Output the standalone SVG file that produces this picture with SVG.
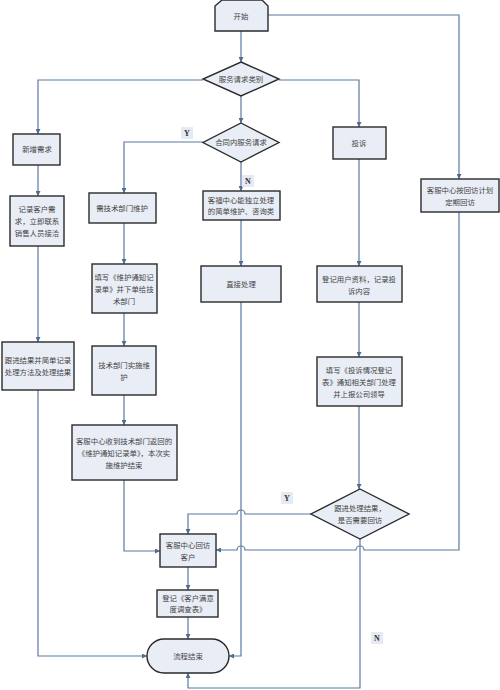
<svg xmlns="http://www.w3.org/2000/svg" width="500" height="690" viewBox="0 0 500 690">
<defs>
<marker id="arr" viewBox="0 0 10 10" refX="10" refY="5" markerWidth="5" markerHeight="5" orient="auto" markerUnits="userSpaceOnUse">
<path d="M0,0 L10,5 L0,10 z" fill="#4e6c93"/>
</marker>
<style>
.n{fill:#e9edf6;stroke:#2a2a2a;stroke-width:1.4}
.c{fill:none;stroke:#5a7aa0;stroke-width:1.2}
.t{font-family:"Liberation Serif","Noto Sans CJK SC",serif;font-size:7.4px;fill:#444;text-anchor:middle}
.lb{fill:#e6eaf3}
.lt{font-family:"Liberation Serif","Noto Sans CJK SC",serif;font-size:8px;font-weight:bold;fill:#333;text-anchor:middle}
</style>
</defs>
<rect width="500" height="690" fill="#fff"/>
<g id="connectors">
<path class="c" d="M241 31 V62" marker-end="url(#arr)"/>
<path class="c" d="M268 15 H459 V179" marker-end="url(#arr)"/>
<path class="c" d="M203 80 H38 V134" marker-end="url(#arr)"/>
<path class="c" d="M279 80 H359 V127" marker-end="url(#arr)"/>
<path class="c" d="M241 96 V123" marker-end="url(#arr)"/>
<path class="c" d="M203 142 H124 V193" marker-end="url(#arr)"/>
<path class="c" d="M241 162 V191" marker-end="url(#arr)"/>
<path class="c" d="M241 220 V266" marker-end="url(#arr)"/>
<path class="c" d="M38 165 V196" marker-end="url(#arr)"/>
<path class="c" d="M38 246 V342" marker-end="url(#arr)"/>
<path class="c" d="M38 390 V656 H147" marker-end="url(#arr)"/>
<path class="c" d="M124 223 V264" marker-end="url(#arr)"/>
<path class="c" d="M124 313 V346" marker-end="url(#arr)"/>
<path class="c" d="M124 395 V425" marker-end="url(#arr)"/>
<path class="c" d="M124 480 V551 H160" marker-end="url(#arr)"/>
<path class="c" d="M241 302 V656 H229" marker-end="url(#arr)"/>
<path class="c" d="M359 159 V266" marker-end="url(#arr)"/>
<path class="c" d="M359 302 V357" marker-end="url(#arr)"/>
<path class="c" d="M359 406 V489" marker-end="url(#arr)"/>
<path class="c" d="M311 514 H245 A4 4 0 0 0 237 514 H188 V534" marker-end="url(#arr)"/>
<path class="c" d="M459 212 V550 H364 A4 4 0 0 0 356 550 H245 A4 4 0 0 0 237 550 H216" marker-end="url(#arr)"/>
<path class="c" d="M360 539 V688 H188 V673" marker-end="url(#arr)"/>
<path class="c" d="M188 567 V590" marker-end="url(#arr)"/>
<path class="c" d="M188 617 V639" marker-end="url(#arr)"/>
</g>
<g id="lbl-y1"><rect class="lb" x="181" y="127" width="12" height="12"/><text class="lt" x="187" y="136">Y</text></g>
<g id="lbl-n1"><rect class="lb" x="242" y="175" width="12" height="12"/><text class="lt" x="248" y="184">N</text></g>
<g id="lbl-y2"><rect class="lb" x="281" y="492" width="12" height="12"/><text class="lt" x="287" y="501">Y</text></g>
<g id="lbl-n2"><rect class="lb" x="371" y="632" width="12" height="12"/><text class="lt" x="377" y="641">N</text></g>
<g id="start"><path class="n" d="M222 0 H262 L268 6 V31 H215 V6 Z"/><text class="t" x="241" y="19">开始</text></g>
<g id="type"><path class="n" d="M241 62 L279 79 L241 96 L203 79 Z"/><text class="t" x="241" y="82">服务请求类别</text></g>
<g id="new"><rect class="n" x="13" y="134" width="47" height="31"/><text class="t" x="37" y="152">新增需求</text></g>
<g id="record"><rect class="n" x="10" y="196" width="54" height="50"/><text class="t" x="37" y="212">记录客户需</text><text class="t" x="37" y="224">求，立即联系</text><text class="t" x="37" y="236">销售人员接洽</text></g>
<g id="follow"><rect class="n" x="2" y="342" width="72" height="48"/><text class="t" x="38" y="363">跟进结果并简单记录</text><text class="t" x="38" y="375">处理方法及处理结果</text></g>
<g id="contract"><path class="n" d="M241 123 L279 142.5 L241 162 L203 142.5 Z"/><text class="t" x="241" y="145">合同内服务请求</text></g>
<g id="tech"><rect class="n" x="89" y="193" width="67" height="30"/><text class="t" x="122" y="211">需技术部门维护</text></g>
<g id="fill1"><rect class="n" x="92" y="264" width="65" height="49"/><text class="t" x="124" y="280">填写《维护通知记</text><text class="t" x="124" y="292">录单》并下单给技</text><text class="t" x="124" y="304">术部门</text></g>
<g id="impl"><rect class="n" x="92" y="346" width="64" height="49"/><text class="t" x="124" y="368">技术部门实施维</text><text class="t" x="124" y="380">护</text></g>
<g id="recv"><rect class="n" x="72" y="425" width="105" height="55"/><text class="t" x="124" y="444">客服中心收到技术部门返回的</text><text class="t" x="124" y="456">《维护通知记录单》，本次实</text><text class="t" x="124" y="468">施维护结束</text></g>
<g id="simple"><rect class="n" x="203" y="191" width="77" height="29"/><text class="t" x="241" y="203">客福中心能独立处理</text><text class="t" x="241" y="214">的简单维护、咨询类</text></g>
<g id="direct"><rect class="n" x="201" y="266" width="80" height="36"/><text class="t" x="241" y="287">直接处理</text></g>
<g id="complain"><rect class="n" x="333" y="127" width="53" height="32"/><text class="t" x="359" y="146">投诉</text></g>
<g id="reg"><rect class="n" x="317" y="266" width="85" height="36"/><text class="t" x="359" y="282">登记用户资料，记录投</text><text class="t" x="359" y="294">诉内容</text></g>
<g id="fill2"><rect class="n" x="317" y="357" width="85" height="49"/><text class="t" x="359" y="373">填写《投诉情况登记</text><text class="t" x="359" y="385">表》通知相关部门处理</text><text class="t" x="359" y="397">并上报公司领导</text></g>
<g id="decide"><path class="n" d="M360 489 L409 514 L360 539 L311 514 Z"/><text class="t" x="360" y="511">跟进处理结果，</text><text class="t" x="360" y="523">是否需要回访</text></g>
<g id="plan"><rect class="n" x="421" y="179" width="78" height="33"/><text class="t" x="460" y="193">客服中心按回访计划</text><text class="t" x="460" y="205">定期回访</text></g>
<g id="visit"><rect class="n" x="160" y="534" width="56" height="33"/><text class="t" x="188" y="548">客服中心回访</text><text class="t" x="188" y="560">客户</text></g>
<g id="survey"><rect class="n" x="157" y="590" width="61" height="27"/><text class="t" x="188" y="601">登记《客户满意</text><text class="t" x="188" y="612">度调查表》</text></g>
<g id="end"><rect class="n" x="147" y="639" width="82" height="34" rx="17" ry="17"/><text class="t" x="188" y="659">流程结束</text></g>
</svg>
